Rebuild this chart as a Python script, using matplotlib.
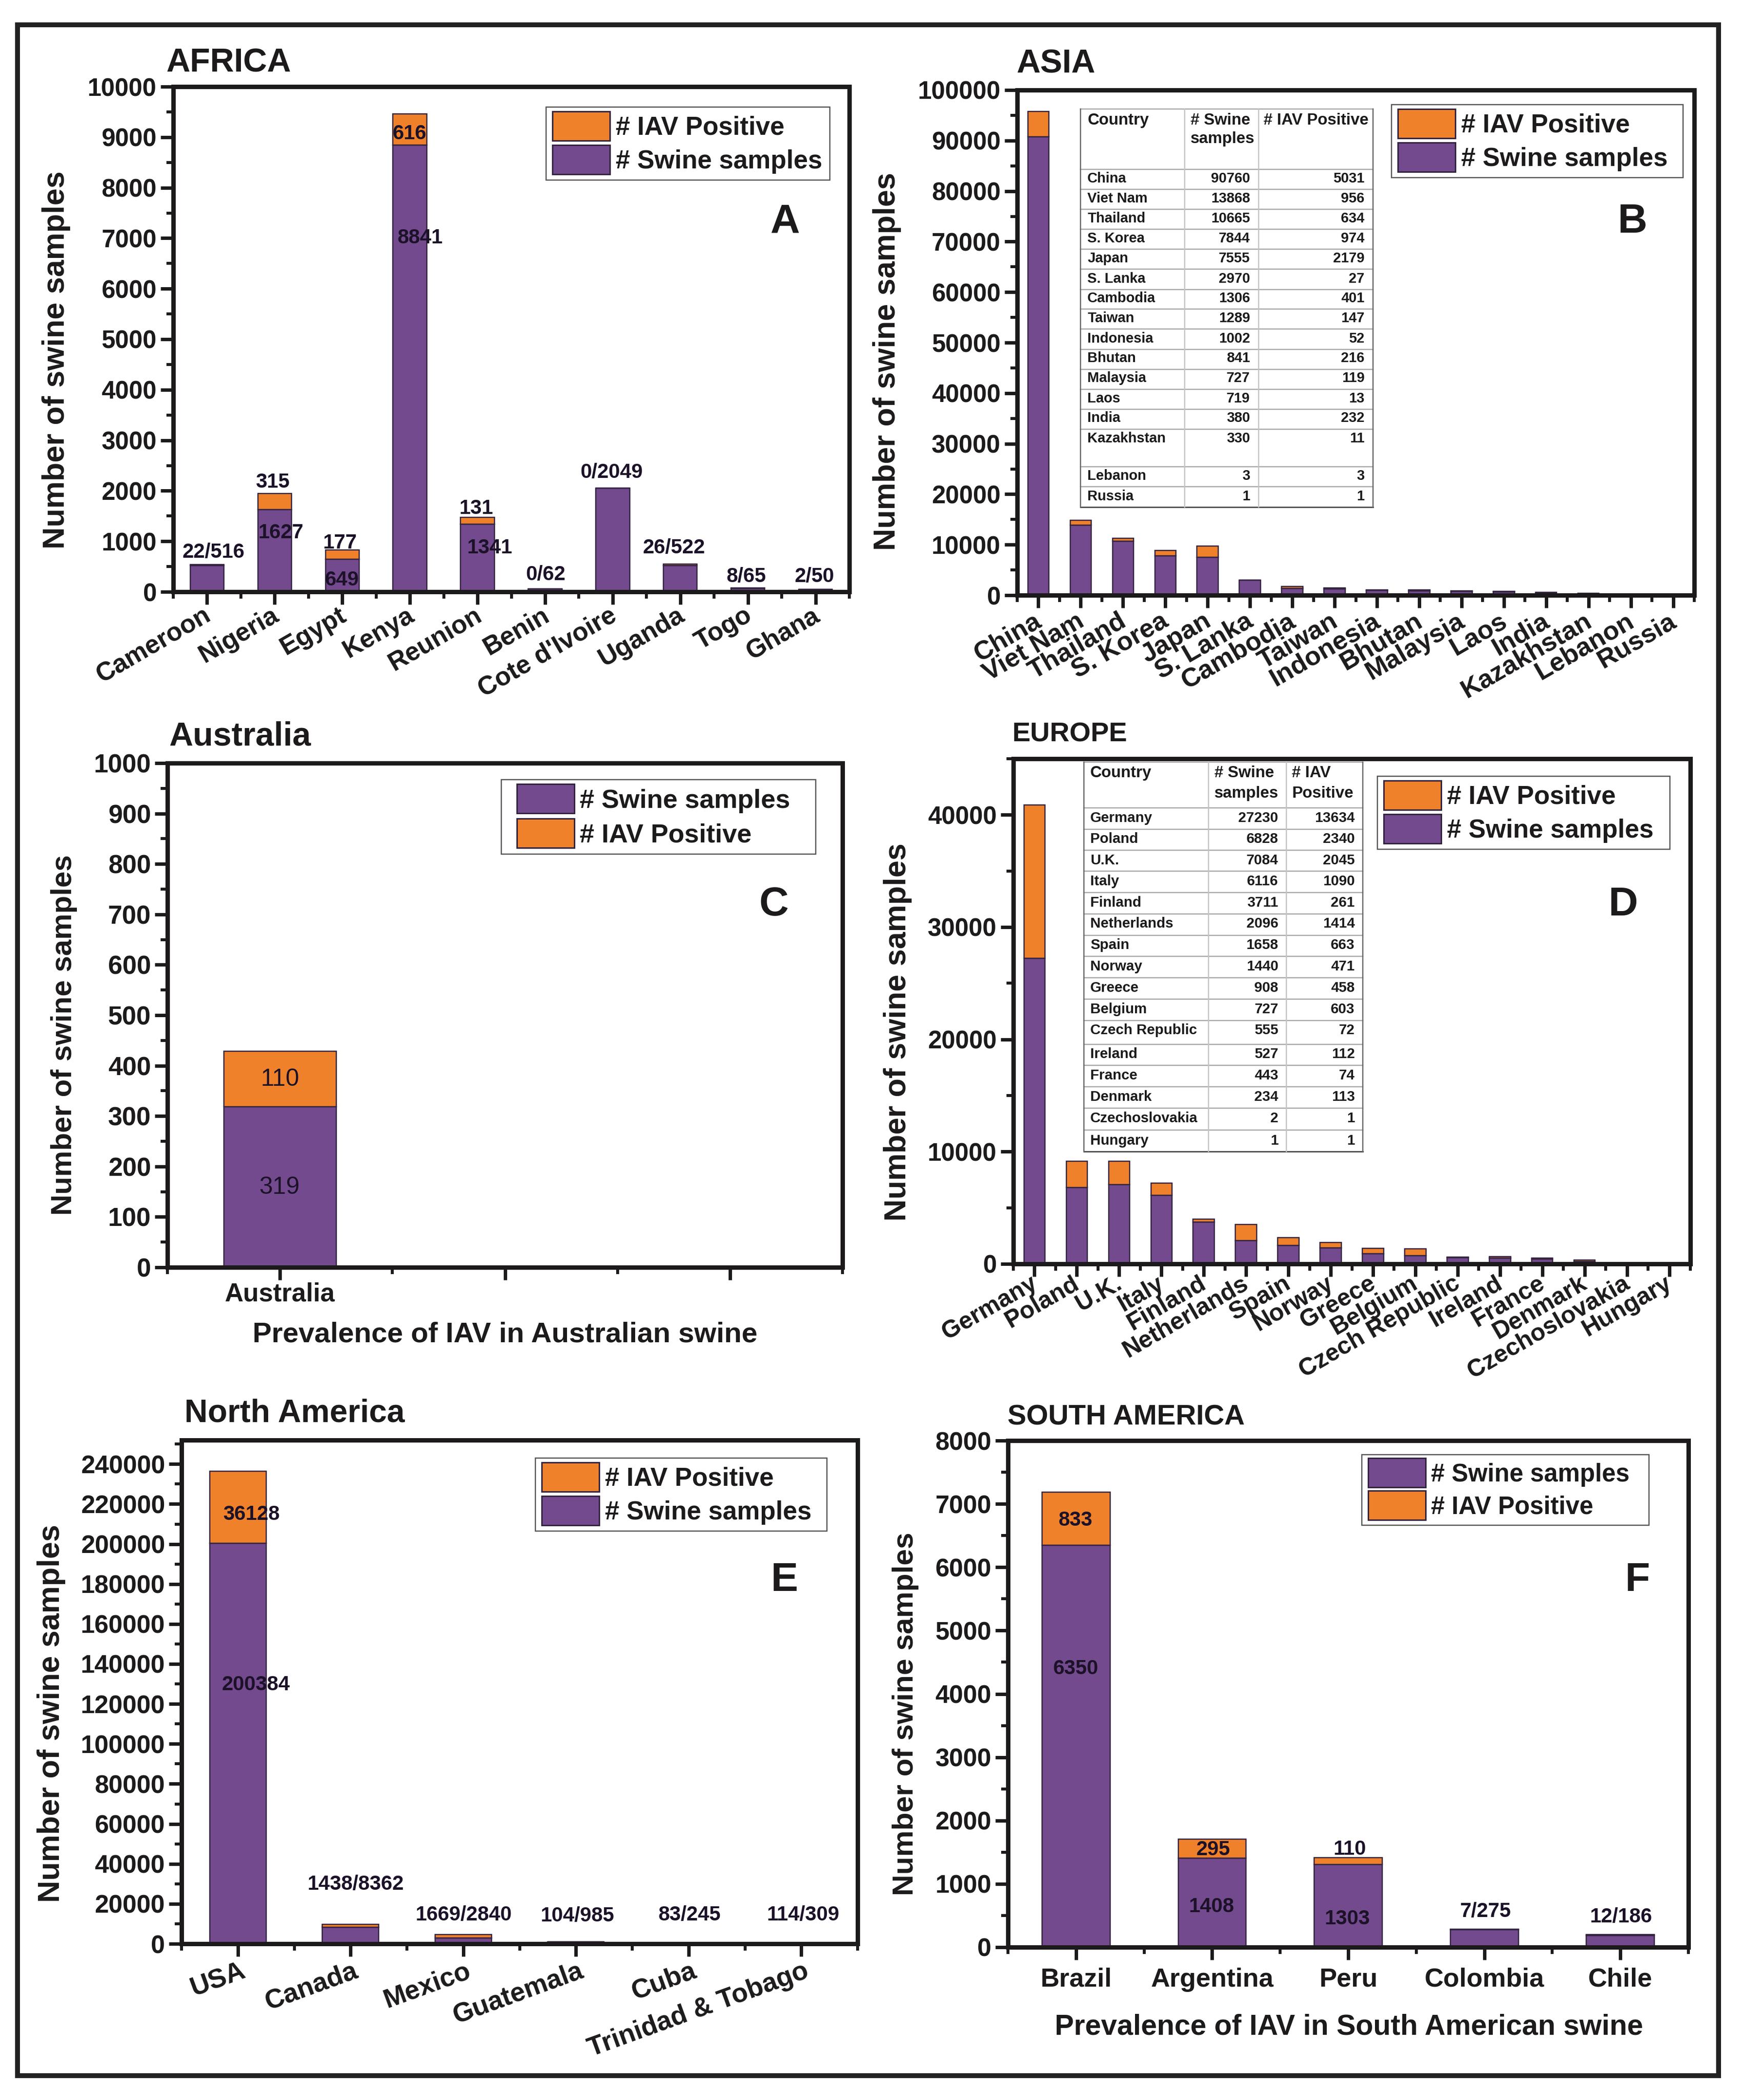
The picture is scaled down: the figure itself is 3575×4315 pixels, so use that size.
import matplotlib
matplotlib.use('Agg')
import matplotlib.pyplot as plt
import numpy as np
from matplotlib.patches import Patch, Rectangle
from matplotlib.legend_handler import HandlerPatch
from matplotlib.ticker import MultipleLocator, FixedLocator
from matplotlib.transforms import ScaledTranslation

plt.rcParams['font.family'] = ['Liberation Sans', 'DejaVu Sans']
plt.rcParams['font.weight'] = 'bold'

# ---------- data ----------
africa_countries = ['Cameroon', 'Nigeria', 'Egypt', 'Kenya', 'Reunion', 'Benin', "Cote d'Ivoire", 'Uganda', 'Togo', 'Ghana']
africa_samples = [516, 1627, 649, 8841, 1341, 62, 2049, 522, 65, 50]
africa_positive = [22, 315, 177, 616, 131, 0, 0, 26, 8, 2]

asia_countries = ['China', 'Viet Nam', 'Thailand', 'S. Korea', 'Japan', 'S. Lanka', 'Cambodia', 'Taiwan', 'Indonesia',
                  'Bhutan', 'Malaysia', 'Laos', 'India', 'Kazakhstan', 'Lebanon', 'Russia']
asia_samples = [90760, 13868, 10665, 7844, 7555, 2970, 1306, 1289, 1002, 841, 727, 719, 380, 330, 3, 1]
asia_positive = [5031, 956, 634, 974, 2179, 27, 401, 147, 52, 216, 119, 13, 232, 11, 3, 1]

aus_countries = ['Australia', '', '']
aus_samples = [319, 0, 0]
aus_positive = [110, 0, 0]

europe_countries = ['Germany', 'Poland', 'U.K.', 'Italy', 'Finland', 'Netherlands', 'Spain', 'Norway', 'Greece', 'Belgium',
                    'Czech Republic', 'Ireland', 'France', 'Denmark', 'Czechoslovakia', 'Hungary']
europe_samples = [27230, 6828, 7084, 6116, 3711, 2096, 1658, 1440, 908, 727, 555, 527, 443, 234, 2, 1]
europe_positive = [13634, 2340, 2045, 1090, 261, 1414, 663, 471, 458, 603, 72, 112, 74, 113, 1, 1]

na_countries = ['USA', 'Canada', 'Mexico', 'Guatemala', 'Cuba', 'Trinidad & Tobago']
na_samples = [200384, 8362, 2840, 985, 245, 309]
na_positive = [36128, 1438, 1669, 104, 83, 114]

sa_countries = ['Brazil', 'Argentina', 'Peru', 'Colombia', 'Chile']
sa_samples = [6350, 1408, 1303, 275, 186]
sa_positive = [833, 295, 110, 7, 12]

# ---------- styles ----------
W, H = 3575, 4315
PURPLE = '#734a8e'
ORANGE = '#f0812b'
EDGE = '#33243f'
INK = '#1c1a1b'
L_SW = '# Swine samples'
L_IAV = '# IAV Positive'


def pt(px):
    return px * 0.72


fig = plt.figure(figsize=(W / 100, H / 100), dpi=100, facecolor='white')
ov = fig.add_axes([0, 0, 1, 1], zorder=10)
ov.set_xlim(0, W)
ov.set_ylim(H, 0)
ov.axis('off')
ov.patch.set_alpha(0)
ov.add_patch(Rectangle((36, 51), 3495, 4214, fill=False, ec='#222222', lw=pt(10)))


def swatch_handler(left_px, w_px, h_px):
    def make(legend, orig_handle, xdescent, ydescent, width, height, fontsize):
        cy = height / 2 - ydescent
        return Rectangle((pt(left_px) - xdescent, cy - pt(h_px) / 2), pt(w_px), pt(h_px))
    return HandlerPatch(patch_func=make)


def panel(box, cats, samples, positive, ymax, major, minor, tick_em, cat_em, rot, xoff, pad,
          title, title_xy, title_em, letter, letter_xy, ylab_xy, ylab_em, legend, order, leg_em, sw_left=0):
    l, t, r, b = box
    ax = fig.add_axes([l / W, 1 - b / H, (r - l) / W, (b - t) / H])
    x = np.arange(len(cats))
    s = np.array(samples, float)
    p = np.array(positive, float)
    ax.bar(x, s, width=0.5, color=PURPLE, edgecolor=EDGE, linewidth=pt(2.5), zorder=2)
    ax.bar(x, p, width=0.5, bottom=s, color=ORANGE, edgecolor=EDGE, linewidth=pt(2.5), zorder=2)
    ax.set_xlim(-0.5, len(cats) - 0.5)
    ax.set_ylim(0, ymax)
    for sp in ax.spines.values():
        sp.set_linewidth(pt(9))
        sp.set_color(INK)
        sp.set_zorder(5)
    ax.set_xticks(x)
    ax.xaxis.set_minor_locator(FixedLocator(np.arange(len(cats) + 1) - 0.5))
    ax.yaxis.set_major_locator(MultipleLocator(major))
    ax.yaxis.set_minor_locator(MultipleLocator(minor))
    ax.tick_params(axis='both', which='major', length=pt(26), width=pt(7), color=INK, direction='out')
    ax.tick_params(axis='both', which='minor', length=pt(14), width=pt(6), color=INK, direction='out')
    ax.tick_params(axis='y', which='major', labelsize=pt(tick_em), labelcolor=INK, pad=pt(8))
    ax.tick_params(axis='x', which='major', pad=pt(pad))
    ax.set_xticklabels(cats, fontsize=pt(cat_em), color=INK, fontweight='bold')
    if rot:
        off = ScaledTranslation(xoff / 100, 0, fig.dpi_scale_trans)
        for lab in ax.get_xticklabels():
            lab.set_rotation(rot)
            lab.set_ha('right')
            lab.set_va('top')
            lab.set_rotation_mode('anchor')
            lab.set_transform(lab.get_transform() + off)
    handles = {L_SW: Patch(fc=PURPLE, ec=EDGE, lw=pt(3)), L_IAV: Patch(fc=ORANGE, ec=EDGE, lw=pt(3))}
    lx0, ly0, lw = legend
    hl = (118 + sw_left) / leg_em
    leg = ax.legend([handles[k] for k in order], order, loc='upper left',
                    bbox_to_anchor=(lx0 / W, 1 - (ly0 + 10) / H, lw / W, 10 / H), bbox_transform=fig.transFigure,
                    mode='expand', fontsize=pt(leg_em), frameon=True, fancybox=False, edgecolor='#555555',
                    framealpha=1, borderaxespad=0, handlelength=hl, handleheight=1.1, labelspacing=0.28,
                    handletextpad=0.22, borderpad=0.25, labelcolor=INK,
                    handler_map={Patch: swatch_handler(sw_left, 118, 60)})
    leg.get_frame().set_linewidth(pt(2.5))
    ov.text(title_xy[0], title_xy[1] + 6, title, fontsize=pt(title_em), color=INK, ha='left', va='center')
    ov.text(letter_xy[0], letter_xy[1] + 7, letter, fontsize=pt(84), color=INK, ha='center', va='center')
    ov.text(ylab_xy[0], ylab_xy[1], 'Number of swine samples', fontsize=pt(ylab_em), color=INK, rotation=90,
            ha='center', va='center')
    return ax


def notes(items, ox, oy, sx, sy, em, weight='bold', color='#1c1228'):
    for txt, zx, zy in items:
        ov.text(ox + zx * sx, oy + zy * sy + 3, txt, fontsize=pt(em), fontweight=weight, color=color,
                ha='center', va='center')


def table(rows, header, col_x, line_y, left_pad, right_x, ox, oy, sx, sy, em, head_y):
    X = lambda v: ox + v * sx
    Y = lambda v: oy + v * sy
    grey = '#a9a9a9'
    for i, ly in enumerate(line_y):
        lw = 3 if i == len(line_y) - 1 else 2.5
        ov.plot([X(col_x[0]), X(col_x[-1])], [Y(ly)] * 2, color='#555555' if i == len(line_y) - 1 else grey, lw=pt(lw))
    for i, cx in enumerate(col_x):
        ov.plot([X(cx)] * 2, [Y(line_y[0]), Y(line_y[-1])], color='#666666' if i in (0, 3) else '#c4c4c4', lw=pt(2.5))
    for txt, hx, hy in header:
        ov.text(X(hx), Y(hy) + 2, txt, fontsize=pt(33), color=INK, ha='left', va='center')
    for k, (name, a, b) in enumerate(rows):
        ty = Y(head_y[k]) + 2
        ov.text(X(left_pad), ty, name, fontsize=pt(em), color=INK, ha='left', va='center')
        ov.text(X(right_x[0]), ty, str(a), fontsize=pt(em), color=INK, ha='right', va='center')
        ov.text(X(right_x[1]), ty, str(b), fontsize=pt(em), color=INK, ha='right', va='center')


# ---------- A ----------
panel((356, 178, 1745, 1216), africa_countries, africa_samples, africa_positive, 10000, 1000, 500, 51, 53, 30, -8, -3,
      'AFRICA', (341, 123), 68, 'A', (1613, 449), (116, 740), 63, (1122, 220, 583), [L_IAV, L_SW], 53)
notes([('22/516', 382, 1224), ('315', 488, 1068), ('1627', 503, 1181), ('177', 608, 1203), ('649', 612, 1285),
       ('616', 733, 294), ('8841', 752, 525), ('131', 852, 1127), ('1341', 876, 1214), ('0/62', 977, 1274),
       ('0/2049', 1095, 1046), ('26/522', 1206, 1214), ('8/65', 1336, 1278), ('2/50', 1458, 1278)],
      0, 0, 1.148, 0.925, 42)

# ---------- B ----------
panel((2090, 185, 3481, 1223), asia_countries, asia_samples, asia_positive, 100000, 10000, 5000, 51, 54, 30, -10, 2,
      'ASIA', (2088, 125), 68, 'B', (3354, 449), (1822, 743), 63, (2859, 215, 599), [L_IAV, L_SW], 53)
asia_lines = [242, 376, 420, 465, 509, 554, 598, 643, 687, 731, 776, 820, 865, 909, 953, 1037, 1081, 1126]
asia_text_y = [395, 439, 483, 528, 572, 617, 661, 705, 750, 794, 838, 883, 927, 972, 1055, 1100]
table(list(zip(asia_countries, asia_samples, asia_positive)),
      [('Country', 416, 265), ('# Swine', 598, 265), ('samples', 598, 307), ('# IAV Positive', 727, 265)],
      [404, 588, 718, 920], asia_lines, 416, (703, 905), 1750, 0, 1.164, 0.925, 29, asia_text_y)

# ---------- C ----------
panel((344, 1568, 1731, 2604), aus_countries, aus_samples, aus_positive, 1000, 100, 50, 53, 53, 0, 0, 4,
      'Australia', (347, 1508), 68, 'C', (1590, 1852), (132, 2127), 60, (1030, 1602, 646), [L_SW, L_IAV], 54, sw_left=18)
notes([('110', 501, 857), ('319', 500, 1105)], 0, 1450, 1.148, 0.893, 50, weight='normal')
ov.text(1038, 2742, 'Prevalence of IAV in Australian swine', fontsize=pt(58.5), color=INK, ha='center', va='center')

# ---------- D ----------
panel((2082, 1559, 3473, 2597), europe_countries, europe_samples, europe_positive, 45000, 10000, 5000, 51, 50, 30, -10, -9,
      'EUROPE', (2079, 1504), 56, 'D', (3335, 1852), (1845, 2121), 63, (2830, 1595, 601), [L_IAV, L_SW], 53)
eu_lines = [130, 235, 284, 333, 381, 430, 479, 528, 577, 626, 675, 724, 779, 828, 877, 926, 977, 1026]
eu_text_y = [256, 305, 354, 402, 451, 500, 549, 598, 647, 696, 745, 800, 849, 898, 947, 999]
table(list(zip(europe_countries, europe_samples, europe_positive)),
      [('Country', 421, 153), ('# Swine', 640, 153), ('samples', 640, 200), ('# IAV', 777, 153), ('Positive', 777, 200)],
      [410, 630, 767, 902], eu_lines, 421, (753, 888), 1750, 1450, 1.164, 0.893, 29.5, eu_text_y)

# ---------- E ----------
panel((373, 2959, 1762, 3994), na_countries, na_samples, na_positive, 252000, 20000, 10000, 52, 55, 20, 5, 4,
      'North America', (379, 2899), 66, 'E', (1611, 3240), (106, 3521), 63, (1100, 2996, 599), [L_IAV, L_SW], 53)
notes([('36128', 450, 277), ('200384', 458, 652), ('1438/8362', 636, 1091), ('1669/2840', 830, 1158),
       ('104/985', 1033, 1161), ('83/245', 1234, 1158), ('114/309', 1437, 1158)], 0, 2850, 1.148, 0.934, 42)

# ---------- F ----------
panel((2071, 2960, 3469, 4001), sa_countries, sa_samples, sa_positive, 8000, 1000, 500, 52, 54, 0, 0, 16,
      'SOUTH AMERICA', (2070, 2906), 58, 'F', (3364, 3240), (1861, 3522), 60.5, (2798, 2989, 590), [L_SW, L_IAV], 51)
notes([('833', 395, 290), ('6350', 395, 617), ('295', 638, 1015), ('1408', 635, 1140), ('110', 879, 1014),
       ('1303', 875, 1167), ('7/275', 1118, 1151), ('12/186', 1358, 1163)], 1750, 2850, 1.164, 0.934, 42)
ov.text(2771, 4165, 'Prevalence of IAV in South American swine', fontsize=pt(59), color=INK, ha='center', va='center')

fig.savefig('out.png', dpi=100, facecolor='white')
